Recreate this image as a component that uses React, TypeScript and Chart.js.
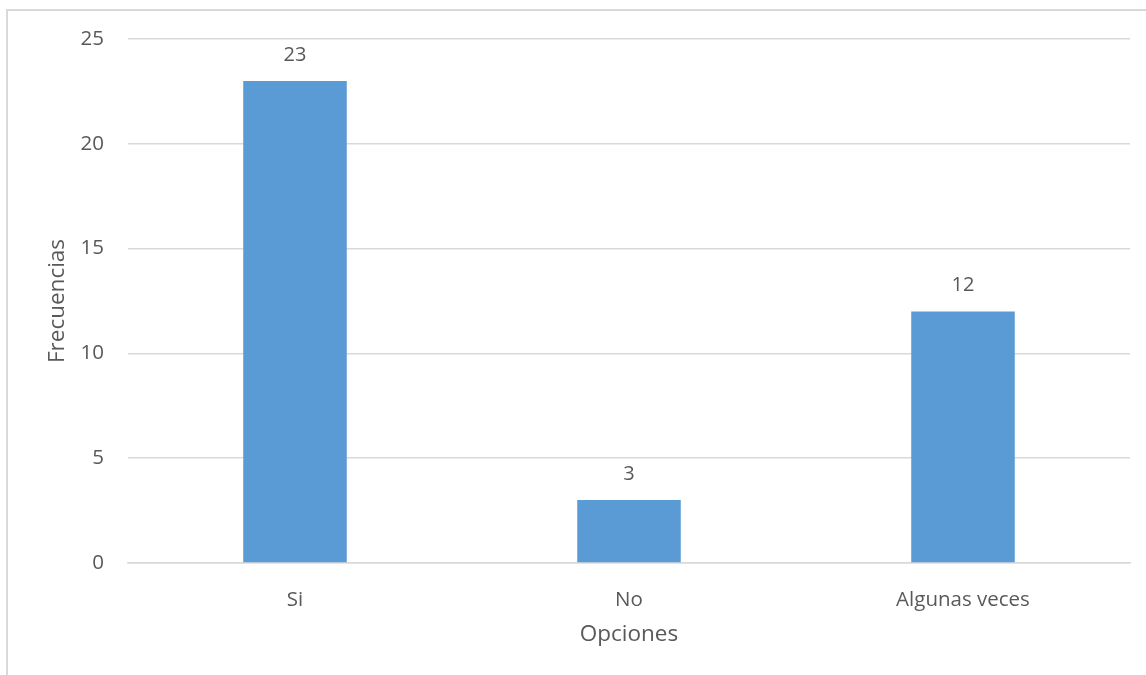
import React, { useEffect, useRef } from "react";
import { Chart, registerables } from "chart.js";

Chart.register(...registerables);

const categories = ["Si", "No", "Algunas veces"];
const frecuencias = [23, 3, 12];
const yTicks = [0, 5, 10, 15, 20, 25];
const xTitle = "Opciones";
const yTitle = "Frecuencias";

const FONT = "'Open Sans', 'Noto Sans', sans-serif";
const TEXT = "#595959";

const valueLabels = {
  id: "valueLabels",
  afterDatasetsDraw(chart: any) {
    const { ctx } = chart;
    const meta = chart.getDatasetMeta(0);
    ctx.save();
    ctx.fillStyle = TEXT;
    ctx.font = `20px ${FONT}`;
    ctx.textAlign = "center";
    ctx.textBaseline = "middle";
    meta.data.forEach((bar: any, i: number) => {
      ctx.fillText(String(frecuencias[i]), bar.x, bar.y - 26);
    });
    ctx.restore();
  },
};

export default function App() {
  const ref = useRef<HTMLCanvasElement>(null);
  useEffect(() => {
    if (!ref.current) return;
    const chart = new Chart(ref.current, {
      type: "bar",
      data: {
        labels: categories,
        datasets: [
          {
            data: frecuencias,
            backgroundColor: "#5B9BD5",
            barPercentage: 0.62,
            categoryPercentage: 0.5,
          },
        ],
      },
      options: {
        animation: false,
        responsive: false,
        events: [],
        layout: { padding: { top: 39, right: 16, bottom: 0, left: 0 } },
        plugins: { legend: { display: false }, tooltip: { enabled: false } },
        scales: {
          x: {
            grid: { display: false },
            border: { display: true, color: "#d9d9d9", width: 1.5 },
            ticks: { color: TEXT, font: { family: FONT, size: 20.5 }, padding: 17 },
            title: {
              display: true,
              text: xTitle,
              color: TEXT,
              font: { family: FONT, size: 22.5 },
              padding: { top: 0, bottom: 27 },
            },
            afterFit: (s: any) => {
              s.height = 112;
            },
          },
          y: {
            min: 0,
            max: 25,
            afterBuildTicks: (s: any) => {
              s.ticks = yTicks.map((v) => ({ value: v }));
            },
            grid: { color: "#d9d9d9", lineWidth: 1.5, drawTicks: false },
            border: { display: false },
            ticks: { color: TEXT, font: { family: FONT, size: 20.5 }, padding: 24 },
            title: {
              display: true,
              text: yTitle,
              color: TEXT,
              font: { family: FONT, size: 22.5 },
              padding: { top: 44, bottom: 0 },
            },
            afterFit: (s: any) => {
              s.width = 128;
            },
          },
        },
      },
      plugins: [valueLabels],
    });
    return () => chart.destroy();
  }, []);
  return (
    <div
      style={{
        position: "fixed",
        left: 0,
        top: 0,
        width: 1146,
        height: 675,
        background: "#fff",
        overflow: "hidden",
      }}
    >
      <div
        style={{
          position: "absolute",
          left: 6,
          top: 9,
          width: 1300,
          height: 900,
          border: "2px solid #d9d9d9",
          boxSizing: "border-box",
        }}
      />
      <canvas ref={ref} width={1146} height={675} style={{ position: "absolute", left: 0, top: 0 }} />
    </div>
  );
}
